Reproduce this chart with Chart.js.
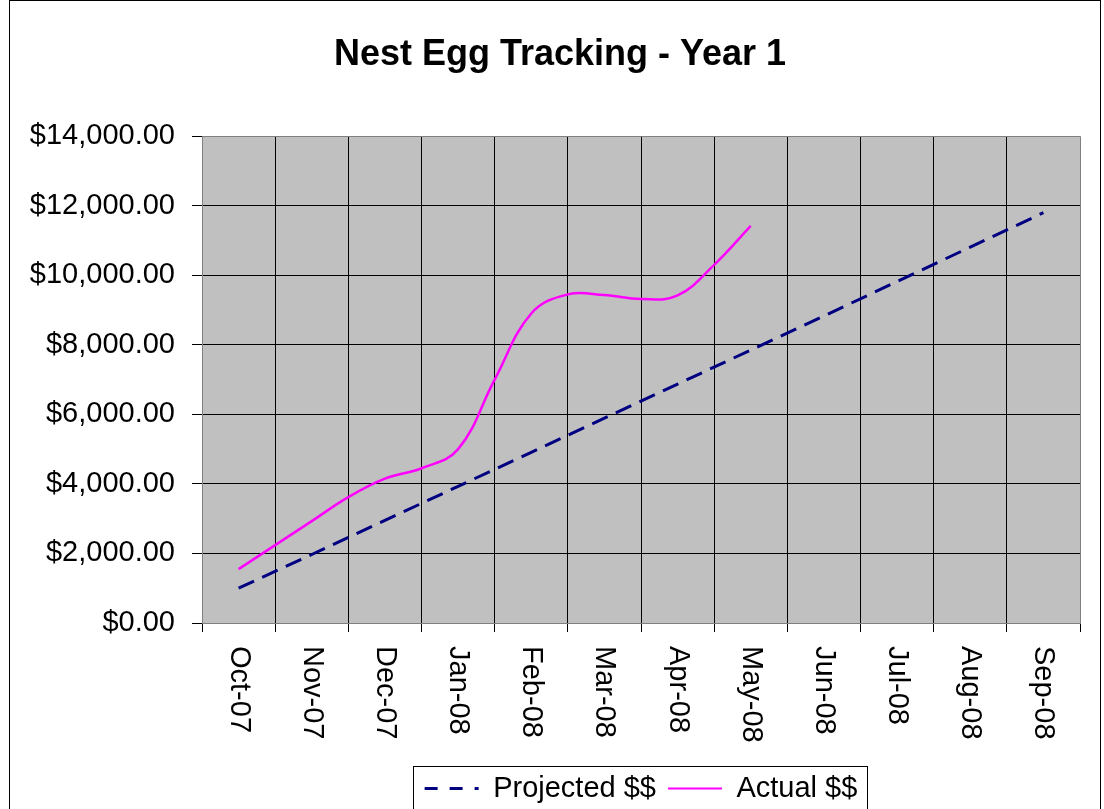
<!DOCTYPE html>
<html lang="en">
<head>
  <meta charset="UTF-8" />
  <title>Nest Egg Tracking - Year 1</title>
  <script src="https://cdn.jsdelivr.net/npm/chart.js"></script>
  <style>
    html, body { margin: 0; padding: 0; background: #fff; }
    #wrap { width: 1104px; height: 809px; position: relative; }
  </style>
</head>
<body>
  <div id="wrap">
    <canvas id="nestEggChart"></canvas>
  </div>

  <script>
    // month categories (x = month index, 0 = Oct-07)
    const months = ['Oct-07', 'Nov-07', 'Dec-07', 'Jan-08', 'Feb-08', 'Mar-08',
                    'Apr-08', 'May-08', 'Jun-08', 'Jul-08', 'Aug-08', 'Sep-08'];
    const monthEdges = [-0.5, 0.5, 1.5, 2.5, 3.5, 4.5, 5.5, 6.5, 7.5, 8.5, 9.5, 10.5, 11.5];

    // Projected $$ - one value per month
    const projected = [1000, 1970, 2950, 3930, 4910, 5890, 6870, 7850, 8830, 9820, 10810, 11800];

    // Actual $$ - twice a month, up to May-08
    const actualAt = [0, 0.5, 1, 1.5, 2, 2.5, 3, 3.5, 4, 4.5, 5, 5.5, 6, 6.5, 7];
    const actual = [1550, 2240, 2930, 3620, 4150, 4450, 5000, 7000, 8900, 9450, 9430, 9320, 9420, 10300, 11420];

    const yTicks = [0, 2000, 4000, 6000, 8000, 10000, 12000, 14000];

    const FONT = '"Liberation Sans", Arial, sans-serif';
    Chart.defaults.font.family = FONT;
    Chart.defaults.color = '#000';

    const money = v => '$' + v.toLocaleString('en-US', { minimumFractionDigits: 2, maximumFractionDigits: 2 });

    // white page, grey plot area, outer frame
    const backdrop = {
      id: 'backdrop',
      afterLayout(chart) {
        // the title sits a little right of the page centre
        chart.titleBlock.left = 40;
      },
      beforeDraw(chart) {
        const { ctx, chartArea: a } = chart;
        ctx.save();
        ctx.fillStyle = '#fff';
        ctx.fillRect(0, 0, chart.width, chart.height);
        ctx.fillStyle = '#C0C0C0';
        ctx.fillRect(a.left, a.top, a.right - a.left, a.bottom - a.top);
        ctx.strokeStyle = '#000';
        ctx.lineWidth = 1;
        ctx.strokeRect(9.5, 0.5, 1091, 830);
        ctx.restore();
      }
    };

    // month labels turned 90deg clockwise, and the legend frame
    const extras = {
      id: 'extras',
      afterDraw(chart) {
        const { ctx } = chart;
        const xs = chart.scales.x;
        ctx.save();
        ctx.font = '29px ' + FONT;
        ctx.fillStyle = '#000';
        ctx.textAlign = 'left';
        ctx.textBaseline = 'middle';
        months.forEach((m, i) => {
          ctx.save();
          ctx.translate(xs.getPixelForValue(i), 646);
          ctx.rotate(Math.PI / 2);
          ctx.fillText(m, 0, 0);
          ctx.restore();
        });

        const hb = chart.legend.legendHitBoxes;
        if (hb && hb.length) {
          const first = hb[0], last = hb[hb.length - 1];
          const left = Math.round(first.left - 12) + 0.5;
          const right = Math.round(last.left + last.width + 10) + 0.5;
          const top = Math.round(first.top - 8) + 0.5;
          ctx.strokeStyle = '#000';
          ctx.lineWidth = 1;
          ctx.strokeRect(left, top, right - left, 900);
        }
        ctx.restore();
      }
    };

    new Chart(document.getElementById('nestEggChart'), {
      type: 'line',
      data: {
        datasets: [{
          label: 'Projected $$',
          data: projected.map((v, i) => ({ x: i, y: v })),
          borderColor: '#000080',
          backgroundColor: '#000080',
          borderWidth: 3,
          borderDash: [17, 9],
          pointRadius: 0,
          tension: 0
        }, {
          label: 'Actual $$',
          data: actual.map((v, i) => ({ x: actualAt[i], y: v })),
          borderColor: '#FF00FF',
          backgroundColor: '#FF00FF',
          borderWidth: 2.5,
          pointRadius: 0,
          tension: 0.4
        }]
      },
      options: {
        responsive: true,
        maintainAspectRatio: false,
        animation: false,
        layout: { padding: { left: 24, right: 24, top: 0, bottom: -4 } },
        plugins: {
          tooltip: { enabled: false },
          title: {
            display: true,
            text: 'Nest Egg Tracking - Year 1',
            color: '#000',
            font: { size: 36, weight: 'bold' },
            padding: { top: 33, bottom: 60 }
          },
          legend: {
            position: 'bottom',
            fullSize: false,
            labels: {
              usePointStyle: true,
              pointStyle: 'line',
              pointStyleWidth: 54,
              padding: 12,
              color: '#000',
              font: { size: 29 },
              generateLabels(chart) {
                const items = Chart.defaults.plugins.legend.labels.generateLabels(chart);
                items.forEach((it, i) => {
                  if (i === 0) { it.lineDash = [13, 12]; it.lineDashOffset = 0; it.lineWidth = 3; }
                  else { it.lineWidth = 2; }
                });
                return items;
              }
            }
          }
        },
        scales: {
          x: {
            type: 'linear',
            min: -0.5,
            max: 11.5,
            afterBuildTicks: s => { s.ticks = monthEdges.map(v => ({ value: v })); },
            afterFit: s => { s.height = 139; },
            ticks: { display: false },
            grid: {
              color: c => (c.tick && (c.tick.value === -0.5 || c.tick.value === 11.5)) ? '#808080' : '#000',
              tickColor: '#000',
              tickLength: 9,
              lineWidth: 1
            },
            border: { color: '#808080', width: 1 }
          },
          y: {
            min: 0,
            max: 14000,
            afterBuildTicks: s => { s.ticks = yTicks.map(v => ({ value: v })); },
            afterFit: s => { s.width = 178; },
            ticks: {
              padding: 17,
              font: { size: 29 },
              color: '#000',
              callback: v => money(v)
            },
            grid: {
              color: c => (c.tick && c.tick.value === 14000) ? '#808080' : '#000',
              tickColor: '#000',
              tickLength: 10,
              lineWidth: 1
            },
            border: { color: '#808080', width: 1 }
          }
        }
      },
      plugins: [backdrop, extras]
    });
  </script>
</body>
</html>
